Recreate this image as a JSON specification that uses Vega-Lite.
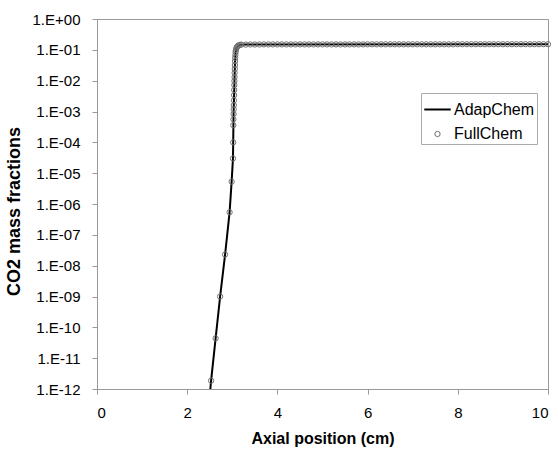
{
  "$schema": "https://vega.github.io/schema/vega-lite/v6.json",
  "width": 451,
  "height": 370,
  "autosize": {"type": "none"},
  "padding": {"left": 97, "top": 19, "right": 10, "bottom": 62},
  "background": "white",
  "datasets": {
    "adap": [
      {"x": 2.505, "y": 7.5e-13},
      {"x": 2.53, "y": 1.86e-12},
      {"x": 2.63, "y": 4.4e-11},
      {"x": 2.73, "y": 1.0e-9},
      {"x": 2.84, "y": 2.3e-8},
      {"x": 2.94, "y": 5.4e-7},
      {"x": 2.985, "y": 5.3e-6},
      {"x": 3.015, "y": 3.0e-5},
      {"x": 3.02, "y": 1.0e-4},
      {"x": 3.028, "y": 8.3e-4},
      {"x": 3.04, "y": 3.4e-3},
      {"x": 3.05, "y": 1.3e-2},
      {"x": 3.061, "y": 4.3e-2},
      {"x": 3.073, "y": 8.5e-2},
      {"x": 3.09, "y": 0.112},
      {"x": 3.12, "y": 0.133},
      {"x": 3.17, "y": 0.145},
      {"x": 3.3, "y": 0.149},
      {"x": 10.0, "y": 0.152}
    ],
    "full": [
      {"x": 2.53, "y": 1.86e-12, "s": "FullChem"},
      {"x": 2.63, "y": 4.4e-11, "s": "FullChem"},
      {"x": 2.73, "y": 1.0e-9, "s": "FullChem"},
      {"x": 2.84, "y": 2.3e-8, "s": "FullChem"},
      {"x": 2.94, "y": 5.4e-7, "s": "FullChem"},
      {"x": 2.985, "y": 5.3e-6, "s": "FullChem"},
      {"x": 3.015, "y": 3.0e-5, "s": "FullChem"},
      {"x": 3.02, "y": 1.0e-4, "s": "FullChem"},
      {"x": 3.022, "y": 3.6e-4, "s": "FullChem"},
      {"x": 3.025, "y": 5.6e-4, "s": "FullChem"},
      {"x": 3.028, "y": 8.3e-4, "s": "FullChem"},
      {"x": 3.031, "y": 1.17e-3, "s": "FullChem"},
      {"x": 3.034, "y": 1.6e-3, "s": "FullChem"},
      {"x": 3.037, "y": 2.3e-3, "s": "FullChem"},
      {"x": 3.04, "y": 3.4e-3, "s": "FullChem"},
      {"x": 3.042, "y": 5.0e-3, "s": "FullChem"},
      {"x": 3.045, "y": 7.2e-3, "s": "FullChem"},
      {"x": 3.047, "y": 9.8e-3, "s": "FullChem"},
      {"x": 3.05, "y": 1.3e-2, "s": "FullChem"},
      {"x": 3.052, "y": 1.8e-2, "s": "FullChem"},
      {"x": 3.055, "y": 2.4e-2, "s": "FullChem"},
      {"x": 3.058, "y": 3.2e-2, "s": "FullChem"},
      {"x": 3.061, "y": 4.3e-2, "s": "FullChem"},
      {"x": 3.064, "y": 5.5e-2, "s": "FullChem"},
      {"x": 3.068, "y": 6.8e-2, "s": "FullChem"},
      {"x": 3.073, "y": 8.5e-2, "s": "FullChem"},
      {"x": 3.08, "y": 0.098, "s": "FullChem"},
      {"x": 3.09, "y": 0.112, "s": "FullChem"},
      {"x": 3.1, "y": 0.123, "s": "FullChem"},
      {"x": 3.12, "y": 0.133, "s": "FullChem"},
      {"x": 3.14, "y": 0.14, "s": "FullChem"},
      {"x": 3.17, "y": 0.145, "s": "FullChem"},
      {"x": 3.2, "y": 0.147, "s": "FullChem"},
      {"x": 3.3, "y": 0.148, "s": "FullChem"},
      {"x": 3.4, "y": 0.149, "s": "FullChem"},
      {"x": 3.5, "y": 0.149, "s": "FullChem"},
      {"x": 3.6, "y": 0.149, "s": "FullChem"},
      {"x": 3.7, "y": 0.15, "s": "FullChem"},
      {"x": 3.8, "y": 0.15, "s": "FullChem"},
      {"x": 3.9, "y": 0.15, "s": "FullChem"},
      {"x": 4.0, "y": 0.15, "s": "FullChem"},
      {"x": 4.1, "y": 0.15, "s": "FullChem"},
      {"x": 4.2, "y": 0.15, "s": "FullChem"},
      {"x": 4.3, "y": 0.15, "s": "FullChem"},
      {"x": 4.4, "y": 0.15, "s": "FullChem"},
      {"x": 4.5, "y": 0.15, "s": "FullChem"},
      {"x": 4.6, "y": 0.15, "s": "FullChem"},
      {"x": 4.7, "y": 0.15, "s": "FullChem"},
      {"x": 4.8, "y": 0.15, "s": "FullChem"},
      {"x": 4.9, "y": 0.15, "s": "FullChem"},
      {"x": 5.0, "y": 0.15, "s": "FullChem"},
      {"x": 5.1, "y": 0.15, "s": "FullChem"},
      {"x": 5.2, "y": 0.15, "s": "FullChem"},
      {"x": 5.3, "y": 0.15, "s": "FullChem"},
      {"x": 5.4, "y": 0.15, "s": "FullChem"},
      {"x": 5.5, "y": 0.15, "s": "FullChem"},
      {"x": 5.6, "y": 0.15, "s": "FullChem"},
      {"x": 5.7, "y": 0.15, "s": "FullChem"},
      {"x": 5.8, "y": 0.15, "s": "FullChem"},
      {"x": 5.9, "y": 0.15, "s": "FullChem"},
      {"x": 6.0, "y": 0.151, "s": "FullChem"},
      {"x": 6.1, "y": 0.151, "s": "FullChem"},
      {"x": 6.2, "y": 0.151, "s": "FullChem"},
      {"x": 6.3, "y": 0.151, "s": "FullChem"},
      {"x": 6.4, "y": 0.151, "s": "FullChem"},
      {"x": 6.5, "y": 0.151, "s": "FullChem"},
      {"x": 6.6, "y": 0.151, "s": "FullChem"},
      {"x": 6.7, "y": 0.151, "s": "FullChem"},
      {"x": 6.8, "y": 0.151, "s": "FullChem"},
      {"x": 6.9, "y": 0.151, "s": "FullChem"},
      {"x": 7.0, "y": 0.151, "s": "FullChem"},
      {"x": 7.1, "y": 0.151, "s": "FullChem"},
      {"x": 7.2, "y": 0.151, "s": "FullChem"},
      {"x": 7.3, "y": 0.151, "s": "FullChem"},
      {"x": 7.4, "y": 0.151, "s": "FullChem"},
      {"x": 7.5, "y": 0.151, "s": "FullChem"},
      {"x": 7.6, "y": 0.151, "s": "FullChem"},
      {"x": 7.7, "y": 0.151, "s": "FullChem"},
      {"x": 7.8, "y": 0.151, "s": "FullChem"},
      {"x": 7.9, "y": 0.151, "s": "FullChem"},
      {"x": 8.0, "y": 0.152, "s": "FullChem"},
      {"x": 8.1, "y": 0.152, "s": "FullChem"},
      {"x": 8.2, "y": 0.152, "s": "FullChem"},
      {"x": 8.3, "y": 0.152, "s": "FullChem"},
      {"x": 8.4, "y": 0.152, "s": "FullChem"},
      {"x": 8.5, "y": 0.152, "s": "FullChem"},
      {"x": 8.6, "y": 0.152, "s": "FullChem"},
      {"x": 8.7, "y": 0.152, "s": "FullChem"},
      {"x": 8.8, "y": 0.152, "s": "FullChem"},
      {"x": 8.9, "y": 0.152, "s": "FullChem"},
      {"x": 9.0, "y": 0.152, "s": "FullChem"},
      {"x": 9.1, "y": 0.152, "s": "FullChem"},
      {"x": 9.2, "y": 0.152, "s": "FullChem"},
      {"x": 9.3, "y": 0.152, "s": "FullChem"},
      {"x": 9.4, "y": 0.152, "s": "FullChem"},
      {"x": 9.5, "y": 0.152, "s": "FullChem"},
      {"x": 9.6, "y": 0.152, "s": "FullChem"},
      {"x": 9.7, "y": 0.152, "s": "FullChem"},
      {"x": 9.8, "y": 0.152, "s": "FullChem"},
      {"x": 9.9, "y": 0.152, "s": "FullChem"},
      {"x": 10.0, "y": 0.152, "s": "FullChem"}
    ]
  },
  "encoding": {
    "x": {
      "field": "x",
      "type": "quantitative",
      "scale": {"domain": [0, 10], "nice": false, "zero": false},
      "axis": {
        "title": "Axial position (cm)",
        "values": [0, 2, 4, 6, 8, 10],
        "titlePadding": 10,
        "labelPadding": 11
      }
    },
    "y": {
      "field": "y",
      "type": "quantitative",
      "scale": {"type": "log", "domain": [1e-12, 1], "nice": false},
      "axis": {
        "title": "CO2 mass fractions",
        "values": [1e-12, 1e-11, 1e-10, 1e-9, 1e-8, 1e-7, 1e-6, 1e-5, 1e-4, 1e-3, 1e-2, 1e-1, 1],
        "labelExpr": "'1.E' + (round(log(datum.value)/LN10) >= 0 ? '+00' : '-' + (abs(round(log(datum.value)/LN10)) < 10 ? '0' : '') + abs(round(log(datum.value)/LN10)))",
        "titlePadding": 9,
        "labelPadding": 12,
        "titleFontSize": 18,
        "titleY": 192
      }
    }
  },
  "layer": [
    {
      "data": {"name": "adap"},
      "mark": {"type": "line", "color": "black", "strokeWidth": 2, "clip": true},
      "encoding": {}
    },
    {
      "data": {"name": "full"},
      "mark": {"type": "point", "filled": false, "opacity": 1},
      "encoding": {
        "shape": {
          "field": "s",
          "type": "nominal",
          "scale": {"domain": ["AdapChem", "FullChem"], "range": ["stroke", "circle"]},
          "legend": {
            "title": null,
            "orient": "none",
            "legendX": 324,
            "legendY": 74,
            "padding": 2,
            "labelOffset": 2,
            "rowPadding": 8,
            "labelFontSize": 16,
            "labelColor": "black",
            "strokeColor": "#aaa",
            "fillColor": "white"
          }
        },
        "size": {
          "field": "s",
          "type": "nominal",
          "scale": {"type": "point", "padding": 0, "domain": ["AdapChem", "FullChem"], "range": [700, 28]},
          "legend": {"title": null}
        },
        "color": {
          "field": "s",
          "type": "nominal",
          "scale": {"domain": ["AdapChem", "FullChem"], "range": ["black", "#707070"]},
          "legend": {"title": null}
        },
        "strokeWidth": {
          "field": "s",
          "type": "nominal",
          "scale": {"type": "point", "padding": 0, "domain": ["AdapChem", "FullChem"], "range": [2, 1]},
          "legend": {"title": null}
        }
      }
    }
  ],
  "config": {
    "font": "Liberation Sans",
    "view": {"stroke": "#999"},
    "axis": {
      "grid": false,
      "domainColor": "#999",
      "tickColor": "#999",
      "tickSize": 5,
      "labelFontSize": 15,
      "labelColor": "black",
      "labelFont": "Liberation Sans",
      "titleFont": "Liberation Sans",
      "titleFontSize": 16,
      "titleFontWeight": "bold",
      "titleColor": "black"
    },
    "legend": {"labelFont": "Liberation Sans"}
  }
}
